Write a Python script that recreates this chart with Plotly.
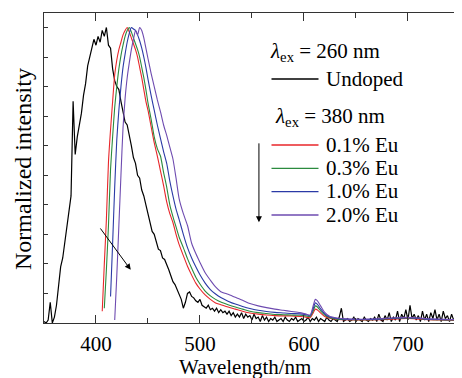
import plotly.graph_objects as go

# ---------------- data ----------------
black_wl = list(range(350, 752, 2))
black_undoped = [
    0.005, 0.0, 0.01, 0.07, 0.0, 0.02, 0.06, 0.12, 0.19, 0.22,
    0.27, 0.33, 0.37, 0.43, 0.75, 0.57, 0.63, 0.67, 0.71, 0.77,
    0.81, 0.87, 0.9, 0.93, 0.96, 0.94, 0.97, 0.95, 0.99, 0.97,
    1.0, 0.94, 0.93, 0.86, 0.82, 0.80, 0.79, 0.75, 0.72, 0.68,
    0.67, 0.64, 0.6, 0.56, 0.54, 0.5, 0.49, 0.45, 0.43, 0.4,
    0.37, 0.34, 0.31, 0.3, 0.27, 0.25, 0.245, 0.22, 0.215, 0.2,
    0.18, 0.16, 0.14, 0.13, 0.115, 0.1, 0.08, 0.05, 0.07, 0.1,
    0.105, 0.09, 0.085, 0.075, 0.07, 0.08, 0.06, 0.055, 0.05, 0.06,
    0.045, 0.05, 0.04, 0.05, 0.035, 0.045, 0.035, 0.04, 0.03, 0.04,
    0.025, 0.035, 0.02, 0.03, 0.02, 0.035, 0.015, 0.03, 0.02, 0.025,
    0.01, 0.03, 0.015, 0.02, 0.005, 0.025, 0.01, 0.02, 0.005, 0.015,
    0.01, 0.02, 0.005, 0.01, 0.015, 0.005, 0.02, 0.01, 0.005, 0.015,
    0.01, 0.02, 0.005, 0.01, 0.015, 0.005, 0.01, 0.02, 0.005, 0.015,
    0.01, 0.02, 0.005, 0.015, 0.01, 0.005, 0.02, 0.01, 0.005, 0.015,
    0.01, 0.005, 0.02, 0.05, 0.005, 0.01, 0.015, 0.005, 0.01, 0.02,
    0.005, 0.015, 0.01, 0.005, 0.02, 0.01, 0.005, 0.015, 0.01, 0.02,
    0.005, 0.03, 0.01, 0.005, 0.025, 0.01, 0.035, 0.005, 0.02, 0.01,
    0.04, 0.005, 0.03, 0.015, 0.045, 0.01, 0.06, 0.015, 0.03, 0.01,
    0.025, 0.005, 0.04, 0.01, 0.03, 0.005, 0.035, 0.015, 0.045, 0.01,
    0.03, 0.005, 0.04, 0.015, 0.025, 0.005, 0.03, 0.01, 0.02, 0.005,
    0.015,
]

eu_wl = [404, 406, 408, 410, 412, 414, 416, 418, 420, 422, 424, 426, 428, 430,
         432, 434, 436, 438, 440, 442, 444, 446, 448, 450,
         453, 456, 459, 462, 465, 468, 471, 474, 477, 480,
         484, 488, 492, 496, 500,
         505, 510, 515, 520,
         527, 534, 541, 548,
         556, 564, 572, 580, 588, 596,
         602, 606, 609, 611, 613, 616, 620, 625, 632,
         640, 650, 660, 670, 680, 690, 700, 710, 720, 730, 740, 750]

eu_01 = [None, 0.04, 0.2, 0.35, 0.545, 0.655, 0.75, 0.84, 0.89, 0.925, 0.95, 0.975, 0.99, 1.0,
         0.985, 0.965, 0.945, 0.925, 0.9, 0.865, 0.83, 0.79, 0.75, 0.72,
         0.665, 0.61, 0.565, 0.515, 0.465, 0.41, 0.37, 0.34, 0.3, 0.265,
         0.228, 0.192, 0.162, 0.135, 0.115,
         0.095, 0.08, 0.068, 0.062,
         0.054, 0.047, 0.04, 0.034,
         0.03, 0.027, 0.025, 0.024, 0.024, 0.022,
         0.02, 0.018, 0.035, 0.047, 0.044, 0.034, 0.022, 0.016, 0.012,
         0.011, 0.01, 0.01, 0.011, 0.012, 0.014, 0.015, 0.013, 0.011, 0.01, 0.009, 0.009]

eu_03 = [None, None, 0.05, 0.18, 0.33, 0.52, 0.63, 0.73, 0.8, 0.86, 0.905, 0.94, 0.97, 0.99,
         1.0, 0.985, 0.965, 0.945, 0.925, 0.9, 0.865, 0.83, 0.79, 0.745,
         0.69, 0.63, 0.59, 0.565, 0.51, 0.46, 0.4, 0.36, 0.325, 0.29,
         0.255, 0.218, 0.185, 0.155, 0.132,
         0.108, 0.092, 0.08, 0.071,
         0.062, 0.054, 0.047, 0.04,
         0.035, 0.032, 0.029, 0.028, 0.027, 0.026,
         0.024, 0.022, 0.042, 0.058, 0.054, 0.041, 0.027, 0.018, 0.013,
         0.012, 0.011, 0.011, 0.012, 0.014, 0.016, 0.017, 0.015, 0.012, 0.011, 0.01, 0.01]

eu_10 = [None, None, None, None, None, 0.09, 0.27, 0.46, 0.62, 0.72, 0.8, 0.865, 0.91, 0.95,
         0.98, 1.0, 0.995, 0.99, 0.975, 0.955, 0.93, 0.9, 0.865, 0.825,
         0.77, 0.72, 0.67, 0.625, 0.58, 0.54, 0.48, 0.43, 0.385, 0.35,
         0.3, 0.255, 0.22, 0.19, 0.163,
         0.135, 0.113, 0.098, 0.086,
         0.074, 0.064, 0.056, 0.049,
         0.043, 0.039, 0.036, 0.034, 0.032, 0.031,
         0.028, 0.025, 0.05, 0.068, 0.063, 0.048, 0.031, 0.02, 0.015,
         0.013, 0.012, 0.012, 0.013, 0.015, 0.017, 0.018, 0.016, 0.013, 0.012, 0.011, 0.011]

eu_20 = [None, None, None, None, None, None, None, 0.01, 0.16, 0.33, 0.5, 0.66, 0.76, 0.83,
         0.88, 0.925, 0.96, 0.99, 0.975, 1.0, 0.99, 0.965, 0.93, 0.895,
         0.845, 0.8, 0.755, 0.715, 0.67, 0.635, 0.595, 0.555, 0.49, 0.42,
         0.37, 0.33, 0.27, 0.235, 0.205,
         0.17, 0.145, 0.122, 0.106,
         0.097, 0.087, 0.077, 0.066,
         0.058, 0.052, 0.047, 0.043, 0.039, 0.035,
         0.03, 0.027, 0.06, 0.08, 0.075, 0.058, 0.036, 0.022, 0.017,
         0.014, 0.013, 0.013, 0.014, 0.016, 0.018, 0.019, 0.017, 0.014, 0.013, 0.012, 0.012]

eu_names = ["0.1% Eu", "0.3% Eu", "1.0% Eu", "2.0% Eu"]
eu_series = [eu_01, eu_03, eu_10, eu_20]
eu_colors = ["#e8262a", "#2b8a3e", "#2b3aa6", "#6e4bb0"]

x_ticks = [400, 500, 600, 700]

# ---------------- figure ----------------
FONT = "Liberation Serif"
PAGE = 8                       # default body margin of the written html page
WIN_W, WIN_H = 462, 378
W, H = WIN_W - PAGE, WIN_H - PAGE
# plot area in window pixels
SX0, SX1, SY0, SY1 = 44, 462, 13, 323
L, R, T, B = SX0 - PAGE, WIN_W - SX1, SY0 - PAGE, WIN_H - SY1


def px_x(px):
    return (px - SX0) / (SX1 - SX0)


def px_y(py):
    return (SY1 - py) / (SY1 - SY0)


fig = go.Figure()
fig.add_trace(go.Scatter(x=black_wl, y=black_undoped, mode="lines",
                         line=dict(color="black", width=1.2), name="Undoped",
                         showlegend=False))
for name, ys, col in zip(eu_names, eu_series, eu_colors):
    fig.add_trace(go.Scatter(x=eu_wl, y=ys, mode="lines", name=name,
                             line=dict(color=col, width=1.1, shape="spline", smoothing=0.6),
                             showlegend=False))
# invisible trace for the right-hand tick marks
fig.add_trace(go.Scatter(x=[None], y=[None], yaxis="y2", showlegend=False, hoverinfo="skip"))

axis_col = "#333333"
fig.update_layout(
    width=W, height=H,
    margin=dict(l=L, r=R, t=T, b=B, autoexpand=False),
    paper_bgcolor="white", plot_bgcolor="white",
    font=dict(family=FONT, size=21, color="black"),
    showlegend=False,
    xaxis=dict(range=[350, 752], tickvals=x_ticks, ticks="inside", ticklen=8,
               tickwidth=1.2, tickcolor=axis_col, automargin=False,
               minor=dict(dtick=50, tick0=0, ticks="inside", ticklen=5, tickcolor=axis_col),
               showline=True, linecolor=axis_col, linewidth=1.4, mirror="ticks",
               showgrid=False, zeroline=False,
               tickfont=dict(family=FONT, size=21),
               ticklabelstandoff=2),
    yaxis=dict(range=[0, 1.049], dtick=0.1, tick0=0, ticks="inside", ticklen=4,
               tickcolor=axis_col, showticklabels=False, automargin=False,
               showline=True, linecolor=axis_col, linewidth=1.4, mirror=False,
               showgrid=False, zeroline=False),
    yaxis2=dict(range=[0, 1.049], dtick=0.2, tick0=0, ticks="inside", ticklen=4,
                tickcolor=axis_col, showticklabels=False, overlaying="y", side="right",
                showline=False, showgrid=False, zeroline=False, automargin=False),
)

# axis titles as text
fig.add_annotation(xref="paper", yref="paper", x=px_x(245), y=px_y(367),
                   text="Wavelength/nm", showarrow=False, xanchor="center", yanchor="middle",
                   font=dict(family=FONT, size=21, color="black"))
fig.add_annotation(xref="paper", yref="paper", x=px_x(23), y=px_y(169),
                   text="Normalized intensity", showarrow=False, textangle=-90,
                   xanchor="center", yanchor="middle",
                   font=dict(family=FONT, size=24, color="black"))

# legend drawn as shapes + text
legend_items = [("black", 79, "Undoped")] + [
    (c, y, n) for c, y, n in zip(eu_colors, [145, 168.3, 191.7, 215], eu_names)]
for col, ypx, label in legend_items:
    fig.add_shape(type="line", xref="paper", yref="paper",
                  x0=px_x(271.5), x1=px_x(318.5), y0=px_y(ypx), y1=px_y(ypx),
                  line=dict(color=col, width=1.3))
    fig.add_annotation(xref="paper", yref="paper", x=px_x(324), y=px_y(ypx - 0.5),
                       text=label, showarrow=False, xanchor="left", yanchor="middle",
                       font=dict(family=FONT, size=21, color="black"))
for txt, xpx, ypx in [("<i>λ</i><sub>ex</sub> = 260 nm", 268, 52),
                      ("<i>λ</i><sub>ex</sub> = 380 nm", 273, 117)]:
    fig.add_annotation(xref="paper", yref="paper", x=px_x(xpx), y=px_y(ypx),
                       text=txt, showarrow=False, xanchor="left", yanchor="middle",
                       font=dict(family=FONT, size=21, color="black"))

# arrows (data coordinates)
fig.add_annotation(x=433.4, y=0.18, ax=403.2, ay=0.325, xref="x", yref="y",
                   axref="x", ayref="y", text="", showarrow=True, arrowhead=2,
                   arrowsize=1.2, arrowwidth=1, arrowcolor="black")
fig.add_annotation(x=556.7, y=0.341, ax=556.7, ay=0.613, xref="x", yref="y",
                   axref="x", ayref="y", text="", showarrow=True, arrowhead=2,
                   arrowsize=1.2, arrowwidth=1, arrowcolor="black")

fig.write_html("out.html")
